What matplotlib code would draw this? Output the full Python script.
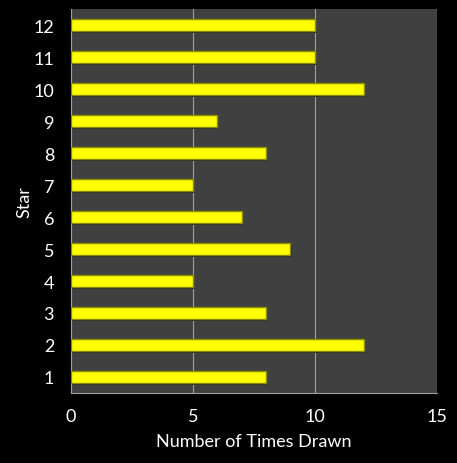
import matplotlib
matplotlib.use("Agg")
import matplotlib.pyplot as plt

stars = ["1", "2", "3", "4", "5", "6", "7", "8", "9", "10", "11", "12"]
times_drawn = [8, 12, 8, 5, 9, 7, 5, 8, 6, 12, 10, 10]
x_ticks = [0, 5, 10, 15]

plt.rcParams['font.family'] = ['Lato', 'DejaVu Sans']

fig = plt.figure(figsize=(4.57, 4.64), dpi=100, facecolor="black")
ax = fig.add_axes([0.155, 0.151, 0.801, 0.827])
ax.set_facecolor("#404040")

pos = list(range(1, len(stars) + 1))
# shadow
ax.barh([p - 0.06 for p in pos], [v + 0.05 for v in times_drawn], height=0.38,
        color="#262626", zorder=2)
ax.barh(pos, times_drawn, height=0.38, color="#FFFF00", edgecolor="#8C8C00",
        linewidth=1.0, zorder=3)

ax.set_xlim(0, 15)
ax.set_ylim(0.5, 12.5)
ax.set_xticks(x_ticks)
ax.set_yticks(pos)
ax.set_yticklabels(stars)
ax.xaxis.grid(True, color="#A0A0A0", linewidth=0.8, zorder=1)
ax.set_axisbelow(True)
for s in ["top", "right"]:
    ax.spines[s].set_visible(False)
for s in ["left", "bottom"]:
    ax.spines[s].set_color("#A0A0A0")
ax.tick_params(colors="white", labelsize=13, length=0)
ax.tick_params(axis="x", pad=11)
ax.tick_params(axis="y", pad=12)
ax.set_xlabel("Number of Times Drawn", color="white", fontsize=13, labelpad=6)
ax.set_ylabel("Star", color="white", fontsize=13, labelpad=1)

fig.savefig("out.png", dpi=100, facecolor="black")
